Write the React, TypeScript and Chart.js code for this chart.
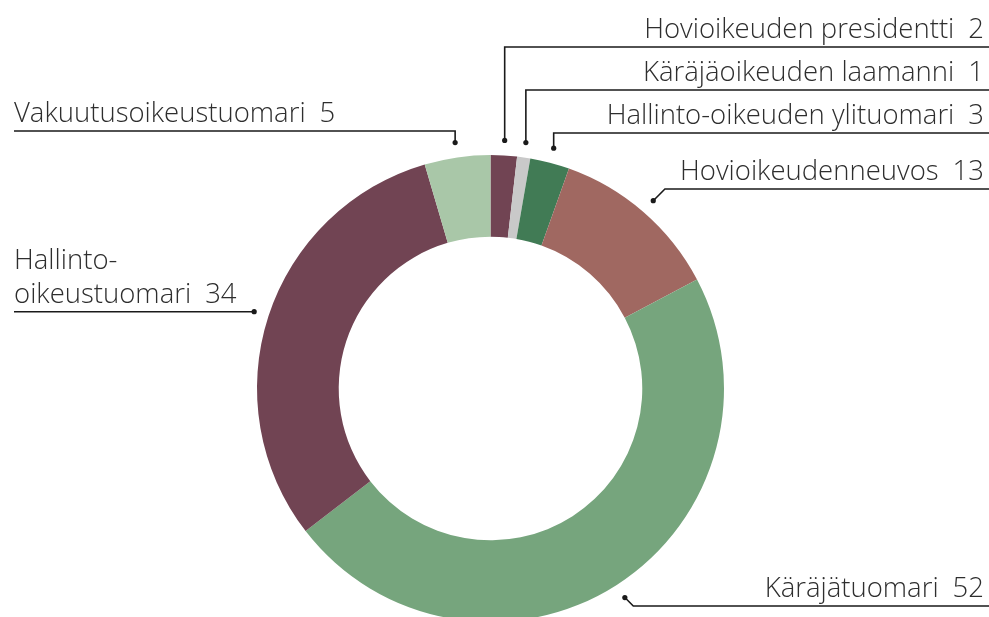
import React, { useEffect, useRef } from "react";
import { Chart, registerables } from "chart.js";

Chart.register(...registerables);

const categories = [
  "Hovioikeuden presidentti",
  "Käräjäoikeuden laamanni",
  "Hallinto-oikeuden ylituomari",
  "Hovioikeudenneuvos",
  "Käräjätuomari",
  "Hallinto-oikeustuomari",
  "Vakuutusoikeustuomari",
];
const values = [2, 1, 3, 13, 52, 34, 5];
const labelLines = [
  ["Hovioikeuden presidentti"],
  ["Käräjäoikeuden laamanni"],
  ["Hallinto-oikeuden ylituomari"],
  ["Hovioikeudenneuvos"],
  ["Käräjätuomari"],
  ["Hallinto-", "oikeustuomari"],
  ["Vakuutusoikeustuomari"],
];
const colors = ["#714453", "#c9c9c9", "#417b55", "#a06861", "#76a57d", "#714453", "#a9c7a8"];

// leader-line layout (styling, not data)
const layout = [
  { side: "right", route: "vertical", lineY: 47 },
  { side: "right", route: "vertical", lineY: 90 },
  { side: "right", route: "vertical", lineY: 133 },
  { side: "right", route: "diagonal", lineY: 189 },
  { side: "right", route: "diagonal", lineY: 606 },
  { side: "left", route: "straight", lineY: 0 },
  { side: "left", route: "vertical", lineY: 131 },
];

const FONT = '300 27.5px "Open Sans"';
const TEXT_COLOR = "#2e2e2e";
const LINE_COLOR = "#1a1a1a";

const leaderPlugin = {
  id: "leaders",
  afterDatasetsDraw(chart: any) {
    const ctx = chart.ctx as CanvasRenderingContext2D;
    const meta = chart.getDatasetMeta(0);
    ctx.save();
    meta.data.forEach((arc: any, i: number) => {
      const p = arc.getProps(["x", "y", "startAngle", "endAngle", "outerRadius"], true);
      const a = (p.startAngle + p.endAngle) / 2;
      const r = p.outerRadius + 15;
      const dx = p.x + Math.cos(a) * r;
      const dy = p.y + Math.sin(a) * r;
      const L = layout[i];
      const ly = L.route === "straight" ? dy : L.lineY;
      const dir = L.side === "right" ? 1 : -1;
      ctx.strokeStyle = LINE_COLOR;
      ctx.lineWidth = 1.6;
      ctx.beginPath();
      ctx.moveTo(dx, dy);
      if (L.route === "vertical") ctx.lineTo(dx, ly);
      else if (L.route === "diagonal") ctx.lineTo(dx + Math.abs(ly - dy) * dir, ly);
      const endX = L.side === "right" ? chart.width : 14;
      ctx.lineTo(endX, ly);
      ctx.stroke();
      ctx.fillStyle = LINE_COLOR;
      ctx.beginPath();
      ctx.arc(dx, dy, 2.6, 0, Math.PI * 2);
      ctx.fill();

      ctx.font = FONT;
      ctx.fillStyle = TEXT_COLOR;
      ctx.textBaseline = "alphabetic";
      const lines = labelLines[i];
      const num = String(values[i]);
      const gap = 14;
      const baseLast = ly - 9;
      lines.forEach((ln, k) => {
        const by = baseLast - (lines.length - 1 - k) * 34;
        const isLast = k === lines.length - 1;
        if (L.side === "right") {
          const rx = 984;
          ctx.textAlign = "right";
          if (isLast) {
            ctx.fillText(num, rx, by);
            const nw = ctx.measureText(num).width;
            ctx.fillText(ln, rx - nw - gap, by);
          } else {
            ctx.fillText(ln, rx, by);
          }
        } else {
          const lx = 14;
          ctx.textAlign = "left";
          ctx.fillText(ln, lx, by);
          if (isLast) {
            const w = ctx.measureText(ln).width;
            ctx.fillText(num, lx + w + gap, by);
          }
        }
      });
    });
    ctx.restore();
  },
};

export default function App() {
  const ref = useRef<HTMLCanvasElement>(null);
  useEffect(() => {
    if (!ref.current) return;
    const chart = new Chart(ref.current, {
      type: "doughnut",
      data: {
        labels: categories,
        datasets: [
          {
            data: values,
            backgroundColor: colors,
            borderWidth: 0,
          },
        ],
      },
      options: {
        responsive: false,
        animation: false,
        cutout: "65%",
        layout: { padding: { left: 257, right: 265, top: 155, bottom: 18 } },
        plugins: { legend: { display: false }, tooltip: { enabled: false } },
      },
      plugins: [leaderPlugin],
    });
    return () => chart.destroy();
  }, []);
  return (
    <div style={{ position: "fixed", left: 0, top: 0, width: 989, height: 640, background: "#fff" }}>
      <canvas ref={ref} width={989} height={640} />
    </div>
  );
}
